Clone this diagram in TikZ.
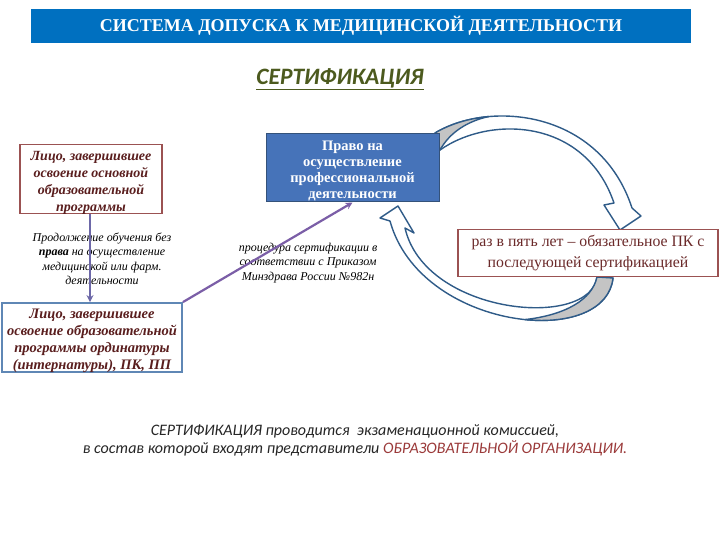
\documentclass[tikz,border=0pt]{standalone}
\usepackage{fontspec}
\setmainfont{Liberation Serif}
\newfontfamily\carl{Carlito}
\usetikzlibrary{arrows.meta}
\definecolor{hdrblue}{HTML}{0070C0}
\definecolor{boxblue}{HTML}{4673B9}
\definecolor{boxblueedge}{HTML}{34527A}
\definecolor{maroon}{HTML}{5A1E1E}
\definecolor{rededge}{HTML}{9B5252}
\definecolor{blueedge}{HTML}{5F87B5}
\definecolor{olive}{HTML}{4C5A1E}
\definecolor{lineviolet}{HTML}{6D68A8}
\definecolor{diagviolet}{HTML}{7B5EA7}
\definecolor{arrowedge}{HTML}{2F5B88}
\definecolor{arrowgray}{HTML}{C4C4C4}
\definecolor{orgred}{HTML}{9B3A3A}
\definecolor{txtred}{HTML}{6B2A2A}
\tikzset{
  hdrbox/.style={rectangle, fill=hdrblue, minimum width=660pt, minimum height=34pt, inner sep=0pt,
    text=white, font=\fontsize{18}{20}\selectfont\bfseries},
  titletext/.style={inner sep=0pt, text=olive, font=\carl\fontsize{23.5}{26}\selectfont\bfseries\itshape},
  redbox/.style={rectangle, draw=rededge, line width=1.8pt, fill=white, inner sep=0pt},
  bluebox/.style={rectangle, draw=blueedge, line width=1.8pt, fill=white, inner sep=0pt},
  redboxtext/.style={inner sep=0pt, align=center, text=maroon, font=\fontsize{14}{17}\selectfont\bfseries\itshape},
  blueboxtext/.style={inner sep=0pt, align=center, text=maroon, font=\fontsize{14.5}{17}\selectfont\bfseries\itshape},
  rightbox/.style={rectangle, fill=boxblue, draw=boxblueedge, line width=1pt, inner sep=0pt},
  rightboxtext/.style={inner sep=0pt, align=center, text=white, font=\fontsize{14.5}{16.3}\selectfont\bfseries},
  pkbox/.style={rectangle, draw=rededge, line width=1.5pt, fill=white, inner sep=0pt, align=center,
    text=txtred, font=\fontsize{15.8}{21}\selectfont},
  smallnote/.style={inner sep=0pt, align=center, text=black, font=\fontsize{12}{14.5}\selectfont\itshape},
  bottomnote/.style={inner sep=0pt, align=center, text=black!85, font=\carl\fontsize{16}{18}\selectfont\itshape},
  curvearrow/.style={fill=white, draw=arrowedge, line width=1.4pt, line join=round},
  curvegray/.style={fill=arrowgray, draw=arrowedge, line width=1.4pt, line join=round},
}
\begin{document}
\begin{tikzpicture}[x=1pt,y=-1pt]
\useasboundingbox (0,0) rectangle (720,540);
\fill[white] (0,0) rectangle (720,540);

\node[hdrbox] (hdr) at (361,26) {СИСТЕМА ДОПУСКА К МЕДИЦИНСКОЙ ДЕЯТЕЛЬНОСТИ};
\node[titletext] (cert) at (340,79) {\underline{СЕРТИФИКАЦИЯ}};

% curved block arrows
\draw[curvearrow] (435,133) .. controls (490,100) and (600,110) .. (632,208)
  -- (641,216) -- (620,230) -- (604,205) -- (614,203)
  .. controls (585,118) and (490,115) .. (440,150) -- cycle;
\draw[curvegray] (435,133) .. controls (449.9,124.1) and (468.7,118.3) .. (489,116.5)
  .. controls (468,121) and (450,132) .. (440,150) -- cycle;
\draw[curvearrow] (613,278) .. controls (605,350) and (420,330) .. (390,221)
  -- (380,218) -- (398,206) -- (414,233) -- (405,228)
  .. controls (425,315) and (590,330) .. (597,277) -- cycle;
\draw[curvegray] (613,278) .. controls (609.4,310.4) and (570,324.2) .. (525,319.6)
  .. controls (565,315) and (592,300) .. (597,277) -- cycle;

\node[rightbox, minimum width=173pt, minimum height=68pt] (right) at (352.5,168) {};
\node[rightboxtext] (righttext) at (352.5,171)
  {Право на\\осуществление\\профессиональной\\деятельности};
\node[pkbox, minimum width=260pt, minimum height=47pt] (pk) at (588,253)
  {раз в пять лет – обязательное ПК с\\последующей сертификацией};

\node[redbox, minimum width=142pt, minimum height=69pt] (basic) at (91,179) {};
\node[redboxtext] (basictext) at (91,182.5)
  {Лицо, завершившее\\освоение основной\\образовательной\\программы};
\node[bluebox, minimum width=180pt, minimum height=69pt] (resid) at (92,337.5) {};
\node[blueboxtext] (residtext) at (92,341)
  {Лицо, завершившее\\освоение образовательной\\программы ординатуры\\(интернатуры), ПК, ПП};

\node[smallnote] (cont) at (102,259)
  {Продолжение обучения без\\\textbf{права} на осуществление\\медицинской или фарм.\\деятельности};
\node[smallnote] (proc) at (308,263)
  {процедура сертификации в\\соответствии с Приказом\\Минздрава России №982н};

\draw[lineviolet, line width=2.2pt, -{Stealth[length=7pt,width=7pt]}] (basic.south -| 90,0) -- (resid.north -| 90,0);
\draw[diagviolet, line width=2.2pt, -{Stealth[length=7pt,width=7pt]}] (resid.north east) -- (right.south);

\node[bottomnote] (note) at (355,440)
  {СЕРТИФИКАЦИЯ проводится\ \ экзаменационной комиссией,\\в состав которой входят представители \textcolor{orgred}{ОБРАЗОВАТЕЛЬНОЙ ОРГАНИЗАЦИИ.}};
\end{tikzpicture}
\end{document}
